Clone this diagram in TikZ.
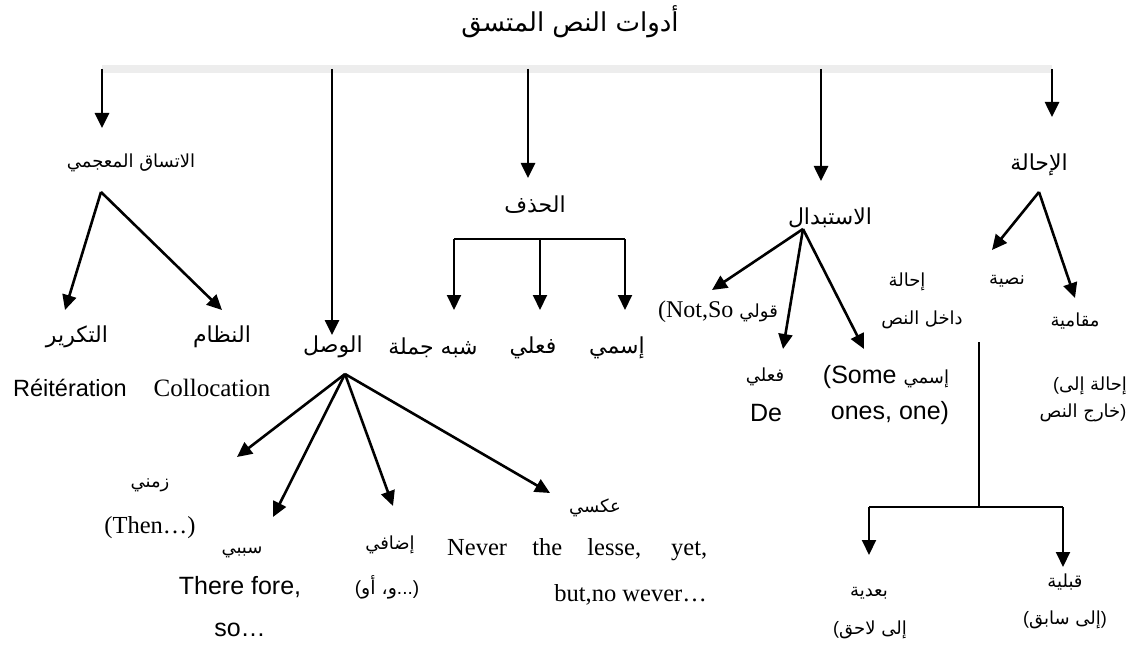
\documentclass[tikz,border=0pt]{standalone}
\usepackage{fontspec}
\setmainfont{Liberation Serif}
\newfontfamily\arfont[Script=Arabic]{DejaVu Sans}
\newfontfamily\arialfont{Liberation Sans}
\TeXXeTstate=1
\usetikzlibrary{arrows.meta}
\newcommand{\artxt}[1]{\beginR #1\endR}
\newcommand{\bigar}{\arfont\fontsize{22}{26}\selectfont}
\newcommand{\smallar}{\arfont\fontsize{18}{21}\selectfont}
\newcommand{\lp}{{\arialfont(}}
\newcommand{\rp}{{\arialfont)}}

\begin{document}
\begin{tikzpicture}[x=1pt,y=-1pt,
  arr/.style={line width=2.6pt,-{Triangle[length=15pt,width=14pt]}},
  brk/.style={line width=2pt},
  bar/.style={line width=8pt,black!7},
  big/.style={inner sep=0pt,font=\bigar},
  small/.style={inner sep=0pt,font=\smallar},
  rom/.style={inner sep=0pt,font=\fontsize{24.5}{29}\selectfont},
  sans/.style={inner sep=0pt,font=\arialfont\fontsize{25}{29}\selectfont}]
\useasboundingbox (0,0) rectangle (1141,650);
\node[big,font=\arfont\fontsize{26}{30}\selectfont] (title) at (570,22) {\artxt{أدوات النص المتسق}};
% top bar and the five branches
\coordinate (barL) at (102,69);
\coordinate (barR) at (1052,69);
\coordinate (barW) at (332,69);
\coordinate (barH) at (528,69);
\coordinate (barS) at (821,69);
\draw[bar] (barL) -- (barR);
\node[small] (mujami) at (131,163) {\artxt{الاتساق المعجمي}};
\node[big] (hadhf) at (535,205) {الحذف};
\node[big] (istibdal) at (830,218) {الاستبدال};
\node[big] (ihala) at (1039,165) {الإحالة};
\node[big] (wasl) at (333,347) {الوصل};
\coordinate (mujamiIn) at (102,128);
\coordinate (waslIn) at (332,335);
\coordinate (hadhfIn) at (528,178);
\coordinate (istibdalIn) at (821,181);
\coordinate (ihalaIn) at (1052,117);
\draw[arr] (barL) -- (mujamiIn);
\draw[arr] (barW) -- (waslIn);
\draw[arr] (barH) -- (hadhfIn);
\draw[arr] (barS) -- (istibdalIn);
\draw[arr] (barR) -- (ihalaIn);
% lexical cohesion
\coordinate (mujamiOut) at (101,192);
\coordinate (takrirIn) at (65,310);
\coordinate (nizamIn) at (222,310);
\node[big] (takrir) at (77,337) {التكرير};
\node[big] (nizam) at (222,337) {النظام};
\node[sans,font=\arialfont\fontsize{23.5}{27}\selectfont] (reit) at (70,388) {Réitération};
\node[rom,font=\fontsize{25}{29}\selectfont] (colloc) at (212,388) {Collocation};
\draw[arr] (mujamiOut) -- (takrirIn);
\draw[arr] (mujamiOut) -- (nizamIn);
% ellipsis
\coordinate (hadhfL) at (454,239);
\coordinate (hadhfM) at (540,239);
\coordinate (hadhfR) at (625,239);
\coordinate (shibhIn) at (454,310);
\coordinate (filIn) at (540,310);
\coordinate (ismIn) at (625,310);
\draw[brk] (hadhfL) -- (hadhfR);
\draw[arr,line width=2pt] (hadhfL) -- (shibhIn);
\draw[arr,line width=2pt] (hadhfM) -- (filIn);
\draw[arr,line width=2pt] (hadhfR) -- (ismIn);
\node[big] (shibh) at (433,348) {\artxt{شبه جملة}};
\node[big] (fil) at (533,348) {فعلي};
\node[big] (ism) at (617,348) {إسمي};
% conjunction
\coordinate (waslOut) at (345,374);
\coordinate (zamaniIn) at (237,457);
\coordinate (sababiIn) at (273,517);
\coordinate (idafiIn) at (393,506);
\coordinate (aksiIn) at (550,493);
\draw[arr] (waslOut) -- (zamaniIn);
\draw[arr] (waslOut) -- (sababiIn);
\draw[arr] (waslOut) -- (idafiIn);
\draw[arr] (waslOut) -- (aksiIn);
\node[small] (zamani) at (150,485) {زمني};
\node[rom] (then) at (150,528) {(Then…)};
\node[small] (sababi) at (242,552) {سببي};
\node[sans] (therefore) at (240,587) {There fore,};
\node[sans] (so) at (240,630) {so…};
\node[small] (idafi) at (390,545) {إضافي};
\node[small,font=\arfont\fontsize{19}{22}\selectfont] (wa) at (387,587) {\lp\artxt{و، أو}{\arialfont...)}};
\node[small] (aksi) at (595,508) {عكسي};
\node[rom,anchor=west] (never) at (447,550) {\makebox[260pt][s]{Never the lesse, yet,}};
\node[rom,anchor=east] (nowever) at (707,595) {but,no wever…};
% substitution
\coordinate (istibdalOut) at (803,229);
\coordinate (qawliIn) at (712,290);
\coordinate (fil2In) at (783,349);
\coordinate (ism2In) at (864,349);
\draw[arr] (istibdalOut) -- (qawliIn);
\draw[arr] (istibdalOut) -- (fil2In);
\draw[arr] (istibdalOut) -- (ism2In);
\node[rom,font=\fontsize{24}{28}\selectfont] (qawli) at (718,312) {(Not,So {\smallar قولي}};
\node[small] (fil2) at (765,377) {فعلي};
\node[sans] (de) at (766,413) {De};
\node[sans] (some) at (886,377) {(Some {\smallar إسمي}};
\node[sans] (ones) at (890,413) {ones, one)};
% reference
\coordinate (ihalaOut) at (1039,192);
\coordinate (nassiyaIn) at (992,250);
\coordinate (maqamiyaIn) at (1075,298);
\draw[arr] (ihalaOut) -- (nassiyaIn);
\draw[arr] (ihalaOut) -- (maqamiyaIn);
\node[small] (ihala2) at (907,282) {إحالة};
\node[small] (nassiya) at (1007,281) {نصية};
\node[small] (dakhil) at (922,320) {\artxt{داخل النص}};
\node[small] (maqamiya) at (1075,321) {مقامية};
\node[small] (ilaKharij) at (1090,386) {\lp\artxt{إحالة إلى}};
\node[small] (kharij) at (1083,413) {\artxt{خارج النص}\rp};
% endophora
\coordinate (dakhilOut) at (979,342);
\coordinate (dakhilM) at (979,507);
\coordinate (dakhilL) at (869,507);
\coordinate (dakhilR) at (1063,507);
\coordinate (baadiyaIn) at (869,555);
\coordinate (qabliyaIn) at (1063,567);
\draw[brk] (dakhilOut) -- (dakhilM);
\draw[brk] (dakhilL) -- (dakhilR);
\draw[arr,line width=2pt] (dakhilL) -- (baadiyaIn);
\draw[arr,line width=2pt] (dakhilR) -- (qabliyaIn);
\node[small] (baadiya) at (869,593) {بعدية};
\node[small] (laahiq) at (870,630) {\lp\artxt{إلى لاحق}};
\node[small] (qabliya) at (1065,582) {قبلية};
\node[small] (saabiq) at (1065,620) {\lp\artxt{إلى سابق}\rp};
\end{tikzpicture}
\end{document}
